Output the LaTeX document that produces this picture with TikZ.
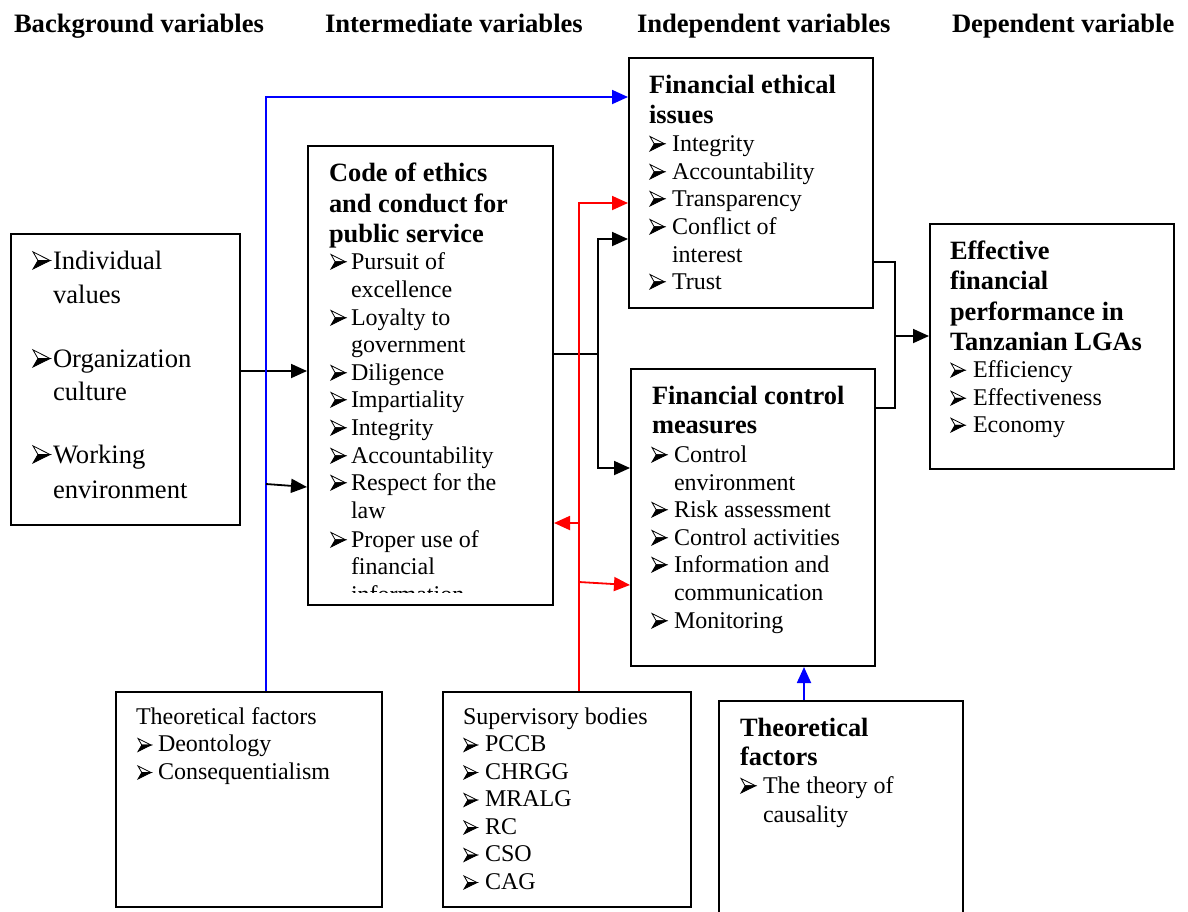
\documentclass[tikz,border=0pt]{standalone}
\usepackage{fontspec}
\setmainfont{Liberation Serif}
\usetikzlibrary{arrows.meta}
\tikzset{
  box/.style={draw,line width=1pt,anchor=north west,inner sep=0pt},
  ln/.style={anchor=base west,inner sep=0pt,outer sep=0pt},
  hd/.style={ln,font=\fontsize{13.3}{15}\selectfont\bfseries},
  ttl/.style={ln,font=\fontsize{13.2}{15}\selectfont\bfseries},
  itm/.style={ln,font=\fontsize{12}{13.8}\selectfont},
  bigitm/.style={ln,font=\fontsize{13.3}{16}\selectfont},
  wire/.style={line width=0.9pt},
  arr/.style={wire,-{Triangle[length=8pt,width=7pt]}},
  barr/.style={arr,blue},
  rarr/.style={arr,red},
  arhd/.pic={
    \draw[line width=0.4pt,line join=miter] (0,-14.5) -- (14.5,-7.2) -- (4.2,-7.2) -- cycle;
    \filldraw[line width=0.4pt,line join=miter] (0,0) -- (14.5,-7.2) -- (4.2,-7.2) -- cycle;
  },
}
\newcommand\bulitem[7]{\node[#1] (#2) at (#4,#5) {#6}; \pic[scale=#7] at (#3,#5) {arhd};}
\begin{document}
\begin{tikzpicture}[x=0.5pt,y=-0.5pt]
\useasboundingbox (0,0) rectangle (1188,911);
\fill[white] (0,0) rectangle (1188,911);

% headers
\node[hd] (h1) at (14,32) {Background variables};
\node[hd] (h2) at (325,32) {Intermediate variables};
\node[hd] (h3) at (637,32) {Independent variables};
\node[hd] (h4) at (952,32) {Dependent variable};

% boxes
\node[box,minimum width=114.5pt,minimum height=145.5pt] (bg) at (10,233) {};
\node[box,minimum width=122.5pt,minimum height=229.5pt] (code) at (307,145) {};
\node[box,minimum width=122pt,minimum height=125pt] (fe) at (628,57) {};
\node[box,minimum width=122pt,minimum height=148.5pt] (fc) at (630,368) {};
\node[box,minimum width=122pt,minimum height=122.5pt] (eff) at (929,223) {};
\node[box,minimum width=133pt,minimum height=107.5pt] (tfl) at (115,691) {};
\node[box,minimum width=124pt,minimum height=107.5pt] (sup) at (442,691) {};
\node[box,minimum width=122pt,minimum height=120pt] (tfr) at (718,700) {};

% background variables
\bulitem{bigitm}{b1}{33}{53}{269}{Individual}{1.18}
\node[bigitm] (b1b) at (53,303) {values};
\bulitem{bigitm}{b2}{33}{53}{367}{Organization}{1.18}
\node[bigitm] (b2b) at (53,400) {culture};
\bulitem{bigitm}{b3}{33}{53}{463}{Working}{1.18}
\node[bigitm] (b3b) at (53,498) {environment};

% code of ethics
\node[ttl] (c0a) at (329,181) {Code of ethics};
\node[ttl] (c0b) at (329,212) {and conduct for};
\node[ttl] (c0c) at (329,242) {public service};
\begin{scope}
\clip (307,145) rectangle (552,592);
\bulitem{itm}{c1}{331}{351}{269}{Pursuit of}{1}
\node[itm] (c1b) at (351,297) {excellence};
\bulitem{itm}{c2}{331}{351}{325}{Loyalty to}{1}
\node[itm] (c2b) at (351,352) {government};
\bulitem{itm}{c3}{331}{351}{380}{Diligence}{1}
\bulitem{itm}{c4}{331}{351}{407}{Impartiality}{1}
\bulitem{itm}{c5}{331}{351}{435}{Integrity}{1}
\bulitem{itm}{c6}{331}{351}{463}{Accountability}{1}
\bulitem{itm}{c7}{331}{351}{490}{Respect for the}{1}
\node[itm] (c7b) at (351,518) {law};
\bulitem{itm}{c8}{331}{351}{547}{Proper use of}{1}
\node[itm] (c8b) at (351,574) {financial};
\node[itm] (c8c) at (351,602) {information};
\end{scope}

% financial ethical issues
\node[ttl] (f0a) at (649,93) {Financial ethical};
\node[ttl] (f0b) at (649,123) {issues};
\bulitem{itm}{f1}{650}{672}{151}{Integrity}{1}
\bulitem{itm}{f2}{650}{672}{179}{Accountability}{1}
\bulitem{itm}{f3}{650}{672}{206}{Transparency}{1}
\bulitem{itm}{f4}{650}{672}{234}{Conflict of}{1}
\node[itm] (f4b) at (672,262) {interest};
\bulitem{itm}{f5}{650}{672}{289}{Trust}{1}

% financial control measures
\node[ttl] (m0a) at (652,404) {Financial control};
\node[ttl] (m0b) at (652,433) {measures};
\bulitem{itm}{m1}{652}{674}{462}{Control}{1}
\node[itm] (m1b) at (674,490) {environment};
\bulitem{itm}{m2}{652}{674}{517}{Risk assessment}{1}
\bulitem{itm}{m3}{652}{674}{545}{Control activities}{1}
\bulitem{itm}{m4}{652}{674}{572}{Information and}{1}
\node[itm] (m4b) at (674,600) {communication};
\bulitem{itm}{m5}{652}{674}{628}{Monitoring}{1}

% effective
\node[ttl] (e0a) at (950,259) {Effective};
\node[ttl] (e0b) at (950,289.5) {financial};
\node[ttl] (e0c) at (950,320) {performance in};
\node[ttl] (e0d) at (950,350) {Tanzanian LGAs};
\bulitem{itm}{e1}{951}{973}{377}{Efficiency}{0.95}
\bulitem{itm}{e2}{951}{973}{405}{Effectiveness}{0.95}
\bulitem{itm}{e3}{951}{973}{432}{Economy}{0.95}

% theoretical factors (left)
\node[itm] (t0) at (136,724) {Theoretical factors};
\bulitem{itm}{t1}{138}{158}{751.5}{Deontology}{0.9}
\bulitem{itm}{t2}{138}{158}{779}{Consequentialism}{0.9}

% supervisory bodies
\node[itm] (s0) at (463,724) {Supervisory bodies};
\bulitem{itm}{s1}{464}{485}{751.5}{PCCB}{0.9}
\bulitem{itm}{s2}{464}{485}{779}{CHRGG}{0.9}
\bulitem{itm}{s3}{464}{485}{806.5}{MRALG}{0.9}
\bulitem{itm}{s4}{464}{485}{834}{RC}{0.9}
\bulitem{itm}{s5}{464}{485}{861.5}{CSO}{0.9}
\bulitem{itm}{s6}{464}{485}{889}{CAG}{0.9}

% theoretical factors (right)
\node[ttl] (r0a) at (740,736) {Theoretical};
\node[ttl] (r0b) at (740,765) {factors};
\bulitem{itm}{r1}{741}{763}{793}{The theory of}{1}
\node[itm] (r1b) at (763,822) {causality};

% connectors
\coordinate (jB) at (266,97);
\coordinate (jK) at (266,484);
\coordinate (jC) at (598,354);
\coordinate (jR) at (579,203);
\coordinate (jE) at (895,336);

\draw[arr] (bg.east |- 0,371) -- (code.west |- 0,371);
\draw[barr] (jB |- tfl.north) -- (jB) -- (fe.west |- jB);
\draw[arr] (jK) -- (code.west |- 0,487);

\draw[wire] (code.east |- jC) -- (jC);
\draw[arr] (jC) -- (jC |- 0,239) -- (fe.west |- 0,239);
\draw[arr] (jC) -- (jC |- 0,468) -- (fc.west |- 0,468);

\draw[rarr] (jR |- sup.north) -- (jR) -- (fe.west |- jR);
\draw[rarr] (jR |- 0,523) -- (code.east |- 0,523);
\draw[rarr] (jR |- 0,582) -- (fc.west |- 0,585);

\draw[wire] (fe.east |- 0,262) -- (jE |- 0,262) -- (jE |- 0,408) -- (fc.east |- 0,408);
\draw[arr] (jE) -- (eff.west |- jE);

\draw[barr] (tfr.north -| 804,0) -- (fc.south -| 804,0);
\end{tikzpicture}
\end{document}
